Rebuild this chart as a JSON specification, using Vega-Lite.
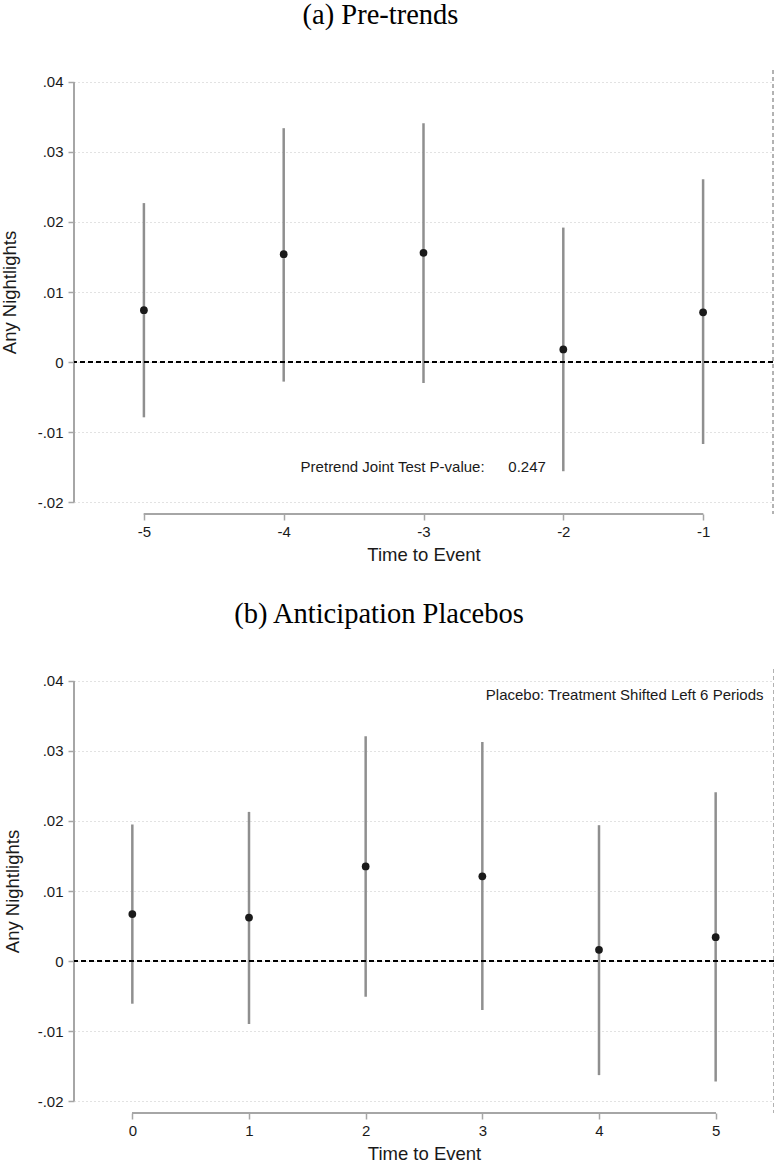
{
  "$schema": "https://vega.github.io/schema/vega-lite/v6.json",
  "padding": {"top": 0, "left": 0, "right": 0, "bottom": 0},
  "background": "white",
  "spacing": 35,
  "config": {
    "view": {"stroke": null},
    "font": "Liberation Sans",
    "title": {"font": "Liberation Serif", "fontSize": 28.5, "fontWeight": "normal", "color": "#000000", "anchor": "middle", "offset": 40.5},
    "axis": {"labelFont": "Liberation Sans", "titleFont": "Liberation Sans", "labelFontSize": 15, "titleFontSize": 18.5, "titleFontWeight": "normal", "labelColor": "#1a1a1a", "titleColor": "#1a1a1a", "tickColor": "#a6a6a6", "domainColor": "#a6a6a6", "tickWidth": 1.5, "tickSize": 6}
  },
  "vconcat": [
    {
      "title": {"text": "(a) Pre-trends", "dx": -43},
      "width": 699,
      "height": 444,
      "data": {"values": [
        {"t": -5, "b": 0.0074, "lo": -0.0079, "hi": 0.0227},
        {"t": -4, "b": 0.0154, "lo": -0.0028, "hi": 0.0334},
        {"t": -3, "b": 0.0156, "lo": -0.0030, "hi": 0.0341},
        {"t": -2, "b": 0.0018, "lo": -0.0156, "hi": 0.0192},
        {"t": -1, "b": 0.0071, "lo": -0.0117, "hi": 0.0261}
      ]},
      "layer": [
        {
          "mark": {"type": "rule", "color": "#8f8f8f", "strokeWidth": 2.5},
          "encoding": {
            "x": {"field": "t", "type": "quantitative", "scale": {"domain": [-5.5, -0.5], "nice": false, "zero": false},
                  "axis": {"values": [-5, -4, -3, -2, -1], "labelExpr": "'' + datum.value", "domain": false, "grid": false, "title": "Time to Event", "labelPadding": 4, "titlePadding": 6}},
            "y": {"field": "lo", "type": "quantitative", "scale": {"domain": [-0.02171, 0.04171], "nice": false, "zero": false},
                  "axis": {"values": [-0.02, -0.01, 0, 0.01, 0.02, 0.03, 0.04], "labelExpr": "datum.value == 0 ? '0' : (datum.value < 0 ? '-' : '') + '.0' + abs(round(datum.value * 100))", "domain": false, "grid": true, "gridDash": [1, 3], "gridColor": "#c4c4c4", "gridWidth": 1, "title": "Any Nightlights", "labelPadding": 5, "titlePadding": 18}},
            "y2": {"field": "hi"}
          }
        },
        {
          "mark": {"type": "rule", "color": "#a6a6a6", "strokeWidth": 1.5},
          "encoding": {
            "x": {"datum": -5.5, "type": "quantitative", "scale": {"domain": [-5.5, -0.5], "nice": false, "zero": false}},
            "y": {"datum": -0.02, "type": "quantitative", "scale": {"domain": [-0.02171, 0.04171], "nice": false, "zero": false}},
            "y2": {"datum": 0.04}
          }
        },
        {
          "mark": {"type": "rule", "color": "#a6a6a6", "strokeWidth": 1.5},
          "encoding": {
            "x": {"datum": -5, "type": "quantitative", "scale": {"domain": [-5.5, -0.5], "nice": false, "zero": false}},
            "x2": {"datum": -1},
            "y": {"datum": -0.02171, "type": "quantitative", "scale": {"domain": [-0.02171, 0.04171], "nice": false, "zero": false}}
          }
        },
        {
          "mark": {"type": "rule", "color": "#b0b0b0", "strokeWidth": 1, "strokeDash": [4, 3]},
          "encoding": {
            "x": {"datum": -0.5, "type": "quantitative", "scale": {"domain": [-5.5, -0.5], "nice": false, "zero": false}}
          }
        },
        {
          "mark": {"type": "rule", "color": "#000000", "strokeWidth": 2, "strokeDash": [5, 3]},
          "encoding": {
            "y": {"datum": 0, "type": "quantitative", "scale": {"domain": [-0.02171, 0.04171], "nice": false, "zero": false}}
          }
        },
        {
          "mark": {"type": "point", "filled": true, "color": "#1a1a1a", "size": 60, "opacity": 1},
          "encoding": {
            "x": {"field": "t", "type": "quantitative"},
            "y": {"field": "b", "type": "quantitative"}
          }
        },
        {
          "data": {"values": [
            {"x": -3.879, "y": -0.015, "label": "Pretrend Joint Test P-value:"},
            {"x": -2.393, "y": -0.015, "label": "0.247"}
          ]},
          "mark": {"type": "text", "align": "left", "baseline": "middle", "fontSize": 15, "font": "Liberation Sans", "color": "#1a1a1a"},
          "encoding": {
            "x": {"field": "x", "type": "quantitative"},
            "y": {"field": "y", "type": "quantitative"},
            "text": {"field": "label"}
          }
        }
      ]
    },
    {
      "title": {"text": "(b) Anticipation Placebos", "dx": -45},
      "width": 700,
      "height": 444,
      "data": {"values": [
        {"t": 0, "b": 0.0067, "lo": -0.0061, "hi": 0.0195},
        {"t": 1, "b": 0.0062, "lo": -0.0090, "hi": 0.0213},
        {"t": 2, "b": 0.0135, "lo": -0.0051, "hi": 0.0321},
        {"t": 3, "b": 0.0121, "lo": -0.0070, "hi": 0.0313},
        {"t": 4, "b": 0.0016, "lo": -0.0163, "hi": 0.0194},
        {"t": 5, "b": 0.0034, "lo": -0.0172, "hi": 0.0241}
      ]},
      "layer": [
        {
          "mark": {"type": "rule", "color": "#8f8f8f", "strokeWidth": 2.5},
          "encoding": {
            "x": {"field": "t", "type": "quantitative", "scale": {"domain": [-0.5, 5.5], "nice": false, "zero": false},
                  "axis": {"values": [0, 1, 2, 3, 4, 5], "labelExpr": "'' + datum.value", "domain": false, "grid": false, "title": "Time to Event", "labelPadding": 4, "titlePadding": 6}},
            "y": {"field": "lo", "type": "quantitative", "scale": {"domain": [-0.02171, 0.04171], "nice": false, "zero": false},
                  "axis": {"values": [-0.02, -0.01, 0, 0.01, 0.02, 0.03, 0.04], "labelExpr": "datum.value == 0 ? '0' : (datum.value < 0 ? '-' : '') + '.0' + abs(round(datum.value * 100))", "domain": false, "grid": true, "gridDash": [1, 3], "gridColor": "#c4c4c4", "gridWidth": 1, "title": "Any Nightlights", "labelPadding": 5, "titlePadding": 15}},
            "y2": {"field": "hi"}
          }
        },
        {
          "mark": {"type": "rule", "color": "#a6a6a6", "strokeWidth": 1.5},
          "encoding": {
            "x": {"datum": -0.5, "type": "quantitative", "scale": {"domain": [-0.5, 5.5], "nice": false, "zero": false}},
            "y": {"datum": -0.02, "type": "quantitative", "scale": {"domain": [-0.02171, 0.04171], "nice": false, "zero": false}},
            "y2": {"datum": 0.04}
          }
        },
        {
          "mark": {"type": "rule", "color": "#a6a6a6", "strokeWidth": 1.5},
          "encoding": {
            "x": {"datum": 0, "type": "quantitative", "scale": {"domain": [-0.5, 5.5], "nice": false, "zero": false}},
            "x2": {"datum": 5},
            "y": {"datum": -0.02171, "type": "quantitative", "scale": {"domain": [-0.02171, 0.04171], "nice": false, "zero": false}}
          }
        },
        {
          "mark": {"type": "rule", "color": "#b0b0b0", "strokeWidth": 1, "strokeDash": [4, 3]},
          "encoding": {
            "x": {"datum": 5.5, "type": "quantitative", "scale": {"domain": [-0.5, 5.5], "nice": false, "zero": false}}
          }
        },
        {
          "mark": {"type": "rule", "color": "#000000", "strokeWidth": 2, "strokeDash": [5, 3]},
          "encoding": {
            "y": {"datum": 0, "type": "quantitative", "scale": {"domain": [-0.02171, 0.04171], "nice": false, "zero": false}}
          }
        },
        {
          "mark": {"type": "point", "filled": true, "color": "#1a1a1a", "size": 60, "opacity": 1},
          "encoding": {
            "x": {"field": "t", "type": "quantitative"},
            "y": {"field": "b", "type": "quantitative"}
          }
        },
        {
          "data": {"values": [
            {"x": 5.41, "y": 0.038, "label": "Placebo: Treatment Shifted Left 6 Periods"}
          ]},
          "mark": {"type": "text", "align": "right", "baseline": "middle", "fontSize": 15, "font": "Liberation Sans", "color": "#1a1a1a"},
          "encoding": {
            "x": {"field": "x", "type": "quantitative"},
            "y": {"field": "y", "type": "quantitative"},
            "text": {"field": "label"}
          }
        }
      ]
    }
  ]
}
